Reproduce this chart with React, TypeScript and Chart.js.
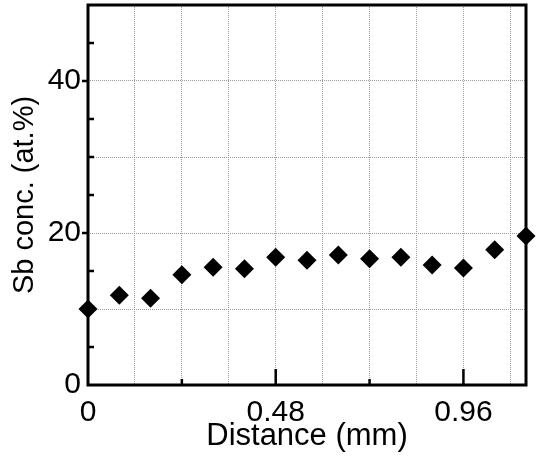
import React, { useEffect, useRef } from 'react';
import { Chart, registerables } from 'chart.js';

Chart.register(...registerables);

// ---- data ----
const DISTANCE_MM = [0, 0.08, 0.16, 0.24, 0.32, 0.4, 0.48, 0.56, 0.64, 0.72, 0.8, 0.88, 0.96, 1.04, 1.12];
const SB_CONC = [10.0, 11.8, 11.4, 14.5, 15.5, 15.3, 16.8, 16.4, 17.1, 16.6, 16.8, 15.8, 15.4, 17.8, 19.6];

const X_GRID_TICKS = [0, 0.12, 0.24, 0.36, 0.48, 0.6, 0.72, 0.84, 0.96, 1.08];
const X_LABEL_VALUES = [0, 0.48, 0.96];
const X_LABEL_TEXTS = ['0', '0.48', '0.96'];
const X_MAJOR_MARKS = [0.48, 0.96];
const X_MINOR_MARKS = [0.24, 0.72];

const Y_GRID_TICKS = [0, 10, 20, 30, 40, 50];
const Y_LABEL_VALUES = [0, 20, 40];
const Y_LABEL_TEXTS = ['0', '20', '40'];
const Y_OUTER_MARKS = [20, 40];
const Y_INNER_MARKS = [5, 10, 15, 25, 30, 35, 45];

const X_MIN = 0;
const X_MAX = 1.12;
const Y_MIN = 0;
const Y_MAX = 50;

const FONT = "'Liberation Sans', Arial, Helvetica, sans-serif";

const frameAndMarks = {
  id: 'frameAndMarks',
  beforeDatasetsDraw(chart: any) {
    const { ctx, chartArea, scales } = chart;
    const { left, right, top, bottom } = chartArea;
    const x = scales.x;
    const y = scales.y;
    ctx.save();
    ctx.strokeStyle = '#000';
    ctx.lineCap = 'butt';
    ctx.lineWidth = 2.5;
    ctx.beginPath();
    X_MAJOR_MARKS.forEach((v) => {
      const px = x.getPixelForValue(v);
      ctx.moveTo(px, bottom);
      ctx.lineTo(px, bottom - 16);
    });
    X_MINOR_MARKS.forEach((v) => {
      const px = x.getPixelForValue(v);
      ctx.moveTo(px, bottom);
      ctx.lineTo(px, bottom - 6);
    });
    Y_OUTER_MARKS.forEach((v) => {
      const py = y.getPixelForValue(v);
      ctx.moveTo(left, py);
      ctx.lineTo(left - 6, py);
    });
    Y_INNER_MARKS.forEach((v) => {
      const py = y.getPixelForValue(v);
      ctx.moveTo(left, py);
      ctx.lineTo(left + 6, py);
    });
    ctx.stroke();
    ctx.lineWidth = 3;
    ctx.strokeRect(left, top, right - left, bottom - top);
    ctx.restore();
  },
};

export default function App() {
  const canvasRef = useRef<HTMLCanvasElement | null>(null);

  useEffect(() => {
    if (!canvasRef.current) return;
    const chart = new Chart(canvasRef.current, {
      type: 'scatter',
      data: {
        datasets: [
          {
            label: 'Sb conc.',
            data: DISTANCE_MM.map((d, i) => ({ x: d, y: SB_CONC[i] })),
            pointStyle: 'rectRot',
            pointRadius: 9.5,
            pointHoverRadius: 9.5,
            backgroundColor: '#000',
            borderColor: '#000',
            borderWidth: 0,
            clip: false,
          } as any,
        ],
      },
      options: {
        animation: false,
        responsive: true,
        maintainAspectRatio: false,
        events: [],
        layout: { autoPadding: false, padding: { top: 5, right: 12, left: 0, bottom: 0 } },
        plugins: {
          legend: { display: false },
          tooltip: { enabled: false },
          title: { display: false },
        },
        scales: {
          x: {
            type: 'linear',
            min: X_MIN,
            max: X_MAX,
            afterBuildTicks: (scale: any) => {
              scale.ticks = X_GRID_TICKS.map((v) => ({ value: v }));
            },
            afterFit: (scale: any) => {
              scale.height = 73;
              scale.paddingLeft = 0;
              scale.paddingRight = 0;
            },
            ticks: {
              autoSkip: false,
              maxRotation: 0,
              padding: 10,
              color: '#000',
              font: { family: FONT, size: 30 },
              callback: (v: any) => {
                const idx = X_LABEL_VALUES.findIndex((l) => Math.abs(l - Number(v)) < 1e-6);
                return idx >= 0 ? X_LABEL_TEXTS[idx] : '';
              },
            },
            grid: { color: '#9a9a9a', lineWidth: 1, drawTicks: false },
            border: { display: false, dash: [1, 1] },
            title: {
              display: true,
              text: 'Distance (mm)',
              color: '#000',
              font: { family: FONT, size: 31 },
              padding: { top: 0, bottom: 3 },
            },
          },
          y: {
            type: 'linear',
            min: Y_MIN,
            max: Y_MAX,
            afterBuildTicks: (scale: any) => {
              scale.ticks = Y_GRID_TICKS.map((v) => ({ value: v }));
            },
            afterFit: (scale: any) => {
              scale.width = 88;
              scale.paddingTop = 0;
              scale.paddingBottom = 0;
            },
            ticks: {
              autoSkip: false,
              padding: 7,
              color: '#000',
              font: { family: FONT, size: 30 },
              callback: (v: any) => {
                const idx = Y_LABEL_VALUES.findIndex((l) => Math.abs(l - Number(v)) < 1e-6);
                return idx >= 0 ? Y_LABEL_TEXTS[idx] : '';
              },
            },
            grid: { color: '#9a9a9a', lineWidth: 1, drawTicks: false },
            border: { display: false, dash: [1, 1] },
            title: {
              display: true,
              text: 'Sb conc. (at.%)',
              color: '#000',
              font: { family: FONT, size: 29 },
              padding: { top: 8, bottom: 0 },
            },
          },
        },
      },
      plugins: [frameAndMarks],
    });
    return () => chart.destroy();
  }, []);

  return (
    <div
      style={{
        position: 'fixed',
        left: 0,
        top: 0,
        width: 538,
        height: 458,
        background: '#fff',
      }}
    >
      <canvas ref={canvasRef} />
    </div>
  );
}
